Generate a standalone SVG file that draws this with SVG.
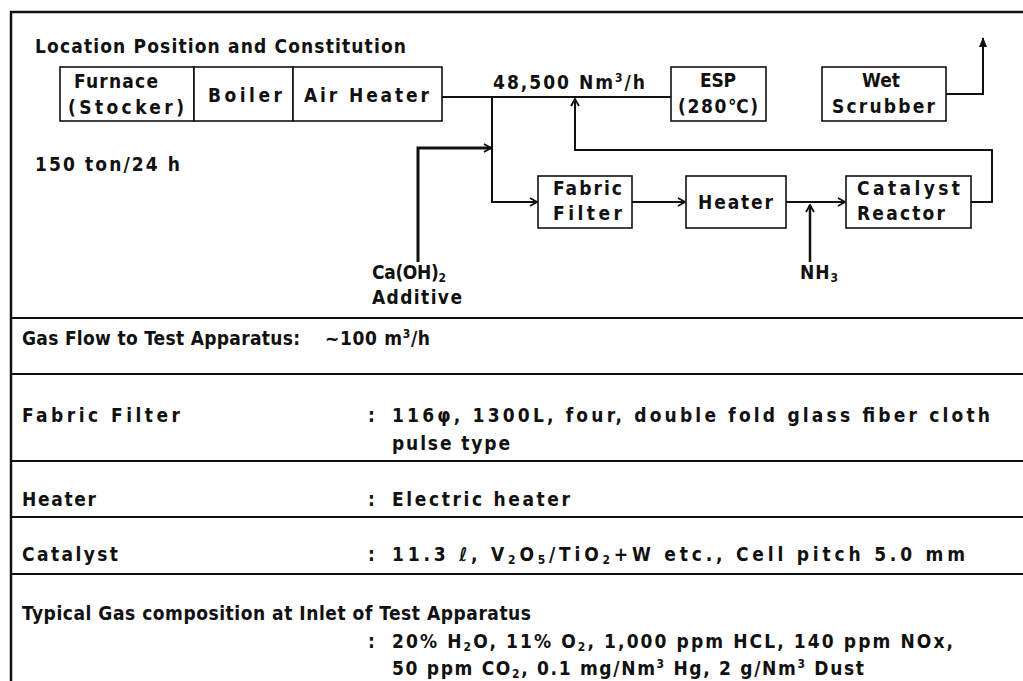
<svg xmlns="http://www.w3.org/2000/svg" width="1023" height="681" viewBox="0 0 1023 681">
<style>
text{font-family:"Liberation Sans Narrow","DejaVu Sans Condensed","Liberation Sans",sans-serif;font-size:19px;font-weight:bold;fill:#111}
.t{font-size:19px}
.box{fill:#fff;stroke:#111;stroke-width:1.6}
.ln{fill:none;stroke:#111;stroke-width:2}
.frame{fill:none;stroke:#111;stroke-width:2.5}
.sep{stroke:#111;stroke-width:1.8}
.sub{font-size:12px}
</style>
<defs>
<marker id="chev" viewBox="0 0 10 10" refX="9" refY="5" markerWidth="10" markerHeight="10" markerUnits="userSpaceOnUse" orient="auto">
<path d="M2,1 L9,5 L2,9" fill="none" stroke="#111" stroke-width="1.8"/>
</marker>
<marker id="tri" viewBox="0 0 10 10" refX="9" refY="5" markerWidth="12" markerHeight="10" markerUnits="userSpaceOnUse" orient="auto">
<path d="M0,1 L10,5 L0,9 Z" fill="#111"/>
</marker>
</defs>

<g id="frame">
<path class="frame" d="M11,681 L11,12 L1023,12"/>
<line class="sep" x1="11" y1="318" x2="1023" y2="318"/>
<line class="sep" x1="11" y1="374" x2="1023" y2="374"/>
<line class="sep" x1="11" y1="461" x2="1023" y2="461"/>
<line class="sep" x1="11" y1="517" x2="1023" y2="517"/>
<line class="sep" x1="11" y1="574" x2="1023" y2="574"/>
</g>

<text class="t" x="35" y="53" textLength="371" lengthAdjust="spacing">Location Position and Constitution</text>
<text class="t" x="35" y="171" textLength="145" lengthAdjust="spacing">150 ton/24 h</text>

<g id="connectors">
<path class="ln" d="M442,97 L671,97"/>
<path class="ln" d="M492,97 L492,202 L537,202" marker-end="url(#chev)"/>
<path class="ln" d="M418,262 L418,148 L491,148" marker-end="url(#chev)" style="stroke-width:3"/>
<path class="ln" d="M632,202 L685,202" marker-end="url(#chev)"/>
<path class="ln" d="M786,202 L845,202" marker-end="url(#chev)"/>
<path class="ln" d="M810,262 L810,205" marker-end="url(#chev)" style="stroke-width:2.5"/>
<path class="ln" d="M971,202 L992,202 L992,150 L575,150 L575,99" marker-end="url(#chev)"/>
<path class="ln" d="M946,94 L983,94 L983,38" marker-end="url(#tri)"/>
</g>

<g id="furnace">
<rect class="box" x="60" y="67" width="134" height="54"/>
<text x="74" y="88" textLength="84" lengthAdjust="spacing">Furnace</text>
<text x="68" y="114" textLength="116" lengthAdjust="spacing">(Stocker)</text>
</g>
<g id="boiler">
<rect class="box" x="194" y="67" width="99" height="54"/>
<text x="208" y="102" textLength="74" lengthAdjust="spacing">Boiler</text>
</g>
<g id="airheater">
<rect class="box" x="293" y="67" width="149" height="54"/>
<text x="304" y="102" textLength="125" lengthAdjust="spacing">Air Heater</text>
</g>
<g id="flowlabel">
<text x="493" y="89" textLength="152" lengthAdjust="spacing">48,500 Nm<tspan class="sub" dy="-7">3</tspan><tspan dy="7">/h</tspan></text>
</g>
<g id="esp">
<rect class="box" x="671" y="67" width="95" height="54"/>
<text x="700" y="87" textLength="36" lengthAdjust="spacing">ESP</text>
<text x="678" y="113" textLength="80" lengthAdjust="spacing">(280℃)</text>
</g>
<g id="scrubber">
<rect class="box" x="822" y="67" width="124" height="54"/>
<text x="862" y="87" textLength="38" lengthAdjust="spacing">Wet</text>
<text x="832" y="113" textLength="103" lengthAdjust="spacing">Scrubber</text>
</g>
<g id="fabricfilter">
<rect class="box" x="538" y="176" width="94" height="52"/>
<text x="553" y="195" textLength="69" lengthAdjust="spacing">Fabric</text>
<text x="553" y="220" textLength="69" lengthAdjust="spacing">Filter</text>
</g>
<g id="heater">
<rect class="box" x="686" y="176" width="100" height="52"/>
<text x="698" y="209" textLength="75" lengthAdjust="spacing">Heater</text>
</g>
<g id="reactor">
<rect class="box" x="846" y="176" width="125" height="52"/>
<text x="857" y="195" textLength="103" lengthAdjust="spacing">Catalyst</text>
<text x="857" y="220" textLength="88" lengthAdjust="spacing">Reactor</text>
</g>
<g id="caoh">
<text x="372" y="279" textLength="74" lengthAdjust="spacing">Ca(OH)<tspan class="sub" dy="3">2</tspan></text>
<text x="372" y="304" textLength="90" lengthAdjust="spacing">Additive</text>
</g>
<g id="nh3">
<text x="800" y="279" textLength="38" lengthAdjust="spacing">NH<tspan class="sub" dy="3">3</tspan></text>
</g>

<g id="table">
<text x="22" y="345" textLength="278" lengthAdjust="spacing">Gas Flow to Test Apparatus:</text>
<text x="325" y="345" textLength="105" lengthAdjust="spacing">~100 m<tspan class="sub" dy="-7">3</tspan><tspan dy="7">/h</tspan></text>

<text x="22" y="422" textLength="158" lengthAdjust="spacing">Fabric Filter</text>
<text x="368" y="422">:</text>
<text x="392" y="422" textLength="598" lengthAdjust="spacing">116φ, 1300L, four, double fold glass fiber cloth</text>
<text x="392" y="450" textLength="118" lengthAdjust="spacing">pulse type</text>

<text x="22" y="506" textLength="74" lengthAdjust="spacing">Heater</text>
<text x="368" y="506">:</text>
<text x="392" y="506" textLength="178" lengthAdjust="spacing">Electric heater</text>

<text x="22" y="561" textLength="96" lengthAdjust="spacing">Catalyst</text>
<text x="368" y="561">:</text>
<text x="392" y="561" textLength="573" lengthAdjust="spacing">11.3 ℓ, V<tspan class="sub" dy="3">2</tspan><tspan dy="-3">O</tspan><tspan class="sub" dy="3">5</tspan><tspan dy="-3">/TiO</tspan><tspan class="sub" dy="3">2</tspan><tspan dy="-3">+W etc., Cell pitch 5.0 mm</tspan></text>

<text x="22" y="620" textLength="509" lengthAdjust="spacing">Typical Gas composition at Inlet of Test Apparatus</text>
<text x="368" y="648">:</text>
<text x="392" y="648" textLength="561" lengthAdjust="spacing">20% H<tspan class="sub" dy="3">2</tspan><tspan dy="-3">O, 11% O</tspan><tspan class="sub" dy="3">2</tspan><tspan dy="-3">, 1,000 ppm HCL, 140 ppm NOx,</tspan></text>
<text x="392" y="675" textLength="472" lengthAdjust="spacing">50 ppm CO<tspan class="sub" dy="3">2</tspan><tspan dy="-3">, 0.1 mg/Nm</tspan><tspan class="sub" dy="-7">3</tspan><tspan dy="7"> Hg, 2 g/Nm</tspan><tspan class="sub" dy="-7">3</tspan><tspan dy="7"> Dust</tspan></text>
</g>
</svg>
